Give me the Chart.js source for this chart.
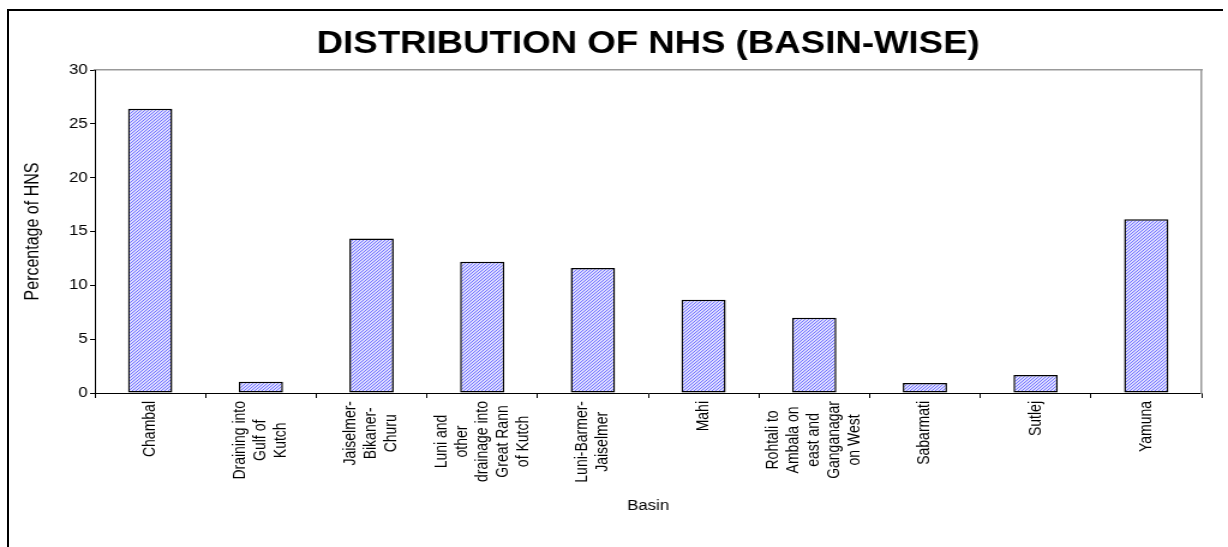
<!DOCTYPE html>
<html>
<head>
<meta charset="utf-8">
<script src="https://cdn.jsdelivr.net/npm/chart.js"></script>
<style>
  html, body { margin: 0; padding: 0; background: #fff; }
  #wrap { position: relative; width: 1228px; height: 547px; overflow: hidden; }
  #frame { position: absolute; left: 7px; top: 9px; width: 1216px; height: 600px;
           border-top: 2px solid #000; border-left: 2px solid #000; box-sizing: border-box; }
  #c { position: absolute; left: 0; top: 0; }
</style>
</head>
<body>
<div id="wrap">
  <div id="frame"></div>
  <canvas id="c" width="1023" height="547" style="width:1228px;height:547px;"></canvas>
</div>
<script>
// ---- data ----
const chartTitle = 'DISTRIBUTION OF NHS (BASIN-WISE)';
const xAxisTitle = 'Basin';
const yAxisTitle = 'Percentage of HNS';
const basins = [
  ['Chambal'],
  ['Draining into', 'Gulf of', 'Kutch'],
  ['Jaiselmer-', 'Bikaner-', 'Churu'],
  ['Luni and', 'other', 'drainage into', 'Great Rann', 'of Kutch'],
  ['Luni-Barmer-', 'Jaiselmer'],
  ['Mahi'],
  ['Rohtali to', 'Ambala on', 'east and', 'Ganganagar', 'on West'],
  ['Sabarmati'],
  ['Sutlej'],
  ['Yamuna']
];
const percentNHS = [26.4, 1.05, 14.35, 12.2, 11.6, 8.65, 7.0, 0.93, 1.67, 16.13];
const yTicksMin = 0;
const yTicksMax = 30;
const yTicksStep = 5;

// ---- hatch pattern for bars ----
function makePattern() {
  const p = document.createElement('canvas');
  p.width = 3; p.height = 3;
  const g = p.getContext('2d');
  g.fillStyle = '#dcdcff';
  g.fillRect(0, 0, 3, 3);
  for (let y = 0; y < 3; y++) {
    const x = (2 - y + 3) % 3;
    g.fillStyle = '#7474ff';
    g.fillRect(x, y, 1, 1);
  }
  return g.createPattern(p, 'repeat');
}
const ctx = document.getElementById('c').getContext('2d');
const hatch = makePattern();

const FONT = "'Liberation Sans', Arial, Helvetica, sans-serif";

// custom x labels: rotated, lines centred, block top-aligned under axis
const rotatedLabels = {
  id: 'rotatedLabels',
  afterDraw(chart) {
    const xs = chart.scales.x;
    const c = chart.ctx;
    const lh = 17;
    const y0 = 401;
    c.save();
    c.font = '14px ' + FONT;
    c.fillStyle = '#000';
    c.textAlign = 'center';
    c.textBaseline = 'middle';
    chart.data.labels.forEach((lab, i) => {
      const lines = Array.isArray(lab) ? lab : [lab];
      const x = xs.getPixelForValue(i);
      let w = 0;
      lines.forEach(l => { w = Math.max(w, c.measureText(l).width); });
      c.save();
      c.translate(x, y0 + w / 2);
      c.rotate(-Math.PI / 2);
      const n = lines.length;
      lines.forEach((l, j) => {
        c.fillText(l, 0, (j - (n - 1) / 2) * lh);
      });
      c.restore();
    });
    c.restore();
  }
};

new Chart(ctx, {
  type: 'bar',
  data: {
    labels: basins,
    datasets: [{
      data: percentNHS,
      backgroundColor: hatch,
      borderColor: '#000',
      borderWidth: 1.5,
      borderSkipped: false,
      barPercentage: 0.5,
      categoryPercentage: 0.8
    }]
  },
  options: {
    responsive: false,
    devicePixelRatio: 1,
    animation: false,
    layout: { padding: 0 },
    plugins: { legend: { display: false }, tooltip: { enabled: false } },
    scales: {
      x: {
        type: 'category',
        position: 'bottom',
        offset: true,
        ticks: { display: false },
        grid: { display: true, drawOnChartArea: false, drawTicks: true, tickLength: 5, color: '#000', offset: true },
        border: { display: true, color: '#000', width: 1 },
        title: { display: true, text: xAxisTitle, color: '#000', font: { family: FONT, size: 14 }, padding: { top: 0, bottom: 32 } },
        afterFit(s) { s.height = 154; }
      },
      xTop: {
        type: 'category',
        position: 'top',
        offset: true,
        ticks: { display: false },
        grid: { display: false },
        border: { display: true, color: '#999', width: 1.5 },
        title: { display: true, text: chartTitle, color: '#000', font: { family: FONT, size: 30.5, weight: 'bold' }, padding: { top: 26, bottom: 0 } },
        afterFit(s) { s.height = 70; }
      },
      y: {
        type: 'linear',
        position: 'left',
        min: yTicksMin,
        max: yTicksMax,
        ticks: { stepSize: yTicksStep, color: '#000', padding: 2, font: { family: FONT, size: 14 } },
        grid: { display: true, drawOnChartArea: false, drawTicks: true, tickLength: 4, color: '#000' },
        border: { display: true, color: '#000', width: 1 },
        title: { display: true, text: yAxisTitle, color: '#000', font: { family: FONT, size: 16 }, padding: { top: 18, bottom: 0 } },
        afterFit(s) { s.width = 79; }
      },
      yRight: {
        type: 'linear',
        position: 'right',
        min: yTicksMin,
        max: yTicksMax,
        ticks: { display: false },
        grid: { display: false },
        border: { display: true, color: '#999', width: 1.5 },
        afterFit(s) { s.width = 22; }
      }
    }
  },
  plugins: [rotatedLabels]
});
</script>
</body>
</html>
